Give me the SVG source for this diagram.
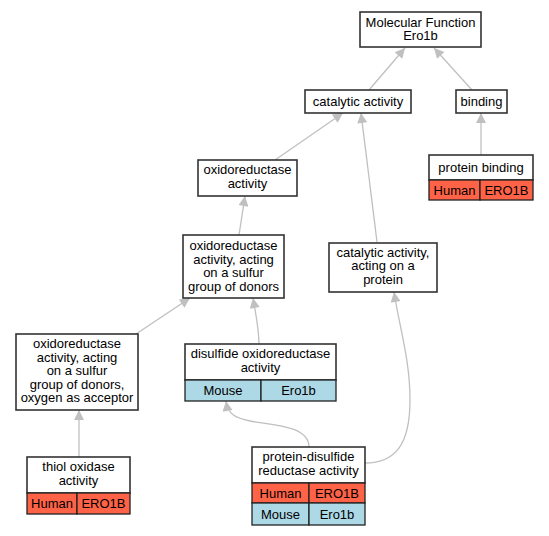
<svg xmlns="http://www.w3.org/2000/svg" width="549" height="536" viewBox="0 0 549 536">
<defs>
<marker id="ah" viewBox="0 0 10 10" refX="10" refY="5" markerUnits="userSpaceOnUse" markerWidth="13" markerHeight="10" orient="auto">
<path d="M0,0 L10,5 L0,10 z" fill="#c0c0c0"/>
</marker>
</defs>
<style>
.box{fill:#ffffff;stroke:#333333;stroke-width:1.6}
.hum{fill:#ff6347;stroke:#222222;stroke-width:1.3}
.mou{fill:#add8e6;stroke:#222222;stroke-width:1.3}
.e{fill:none;stroke:#c0c0c0;stroke-width:1.3;marker-end:url(#ah)}
text{font-family:"Liberation Sans",Arial,sans-serif;font-size:13px;fill:#000;text-anchor:middle}
</style>
<rect width="549" height="536" fill="#ffffff"/>
<g id="connectors">
<path class="e" d="M369,90 L405,48"/>
<path class="e" d="M472,90 L434,48"/>
<path class="e" d="M481,155 L481,113"/>
<path class="e" d="M275,160 L343,113"/>
<path class="e" d="M377,242 L361,113"/>
<path class="e" d="M239,235 L245,196"/>
<path class="e" d="M136,334 L190,298"/>
<path class="e" d="M259,344 C259,330 256,315 253,298"/>
<path class="e" d="M79,457 L79,410"/>
<path class="e" d="M309,447 C309,425 270,425 250,421 C235,418 228,414 226,401"/>
<path class="e" d="M365,463 C395,463 410,445 410,400 C410,360 400,330 394,292"/>
</g>
<g id="n_mf">
<rect class="box" x="360" y="12" width="121" height="35"/>
<text x="420.5" y="26.5">Molecular Function</text>
<text x="420.5" y="40">Ero1b</text>
</g>
<g id="n_catalytic">
<rect class="box" x="305" y="90" width="106" height="23"/>
<text x="358" y="105.5">catalytic activity</text>
</g>
<g id="n_binding">
<rect class="box" x="456" y="90" width="51" height="23"/>
<text x="481.5" y="105.5">binding</text>
</g>
<g id="n_protein_binding">
<rect class="box" x="429" y="155" width="104" height="25"/>
<text x="481" y="171.5">protein binding</text>
<rect class="hum" x="429" y="180" width="51" height="20"/>
<rect class="hum" x="480" y="180" width="53" height="20"/>
<text x="454.5" y="194.5">Human</text>
<text x="506.5" y="194.5">ERO1B</text>
</g>
<g id="n_oxido">
<rect class="box" x="198" y="160" width="99" height="36"/>
<text x="247.5" y="174">oxidoreductase</text>
<text x="247.5" y="187.5">activity</text>
</g>
<g id="n_sulfur">
<rect class="box" x="183" y="235" width="101" height="63"/>
<text x="233.5" y="250">oxidoreductase</text>
<text x="233.5" y="263.5">activity, acting</text>
<text x="233.5" y="277">on a sulfur</text>
<text x="233.5" y="290.5">group of donors</text>
</g>
<g id="n_cat_protein">
<rect class="box" x="329" y="243" width="108" height="49"/>
<text x="383" y="256.5">catalytic activity,</text>
<text x="383" y="270">acting on a</text>
<text x="383" y="283.5">protein</text>
</g>
<g id="n_oxygen">
<rect class="box" x="16" y="334" width="122" height="76"/>
<text x="77" y="348">oxidoreductase</text>
<text x="77" y="361.5">activity, acting</text>
<text x="77" y="375">on a sulfur</text>
<text x="77" y="388.5">group of donors,</text>
<text x="77" y="402">oxygen as acceptor</text>
</g>
<g id="n_disulfide">
<rect class="box" x="185" y="344" width="151" height="36"/>
<text x="260.5" y="358">disulfide oxidoreductase</text>
<text x="260.5" y="371.5">activity</text>
<rect class="mou" x="185" y="380" width="76" height="21"/>
<rect class="mou" x="261" y="380" width="75" height="21"/>
<text x="223" y="394.5">Mouse</text>
<text x="298.5" y="394.5">Ero1b</text>
</g>
<g id="n_thiol">
<rect class="box" x="27" y="457" width="103" height="36"/>
<text x="78.5" y="471">thiol oxidase</text>
<text x="78.5" y="484.5">activity</text>
<rect class="hum" x="27" y="493" width="50" height="21"/>
<rect class="hum" x="77" y="493" width="53" height="21"/>
<text x="52" y="508">Human</text>
<text x="103.5" y="508">ERO1B</text>
</g>
<g id="n_pdi">
<rect class="box" x="252" y="447" width="113" height="36"/>
<text x="308.5" y="461">protein-disulfide</text>
<text x="308.5" y="474.5">reductase activity</text>
<rect class="hum" x="252" y="483" width="57" height="20"/>
<rect class="hum" x="309" y="483" width="56" height="20"/>
<text x="280.5" y="497.5">Human</text>
<text x="337" y="497.5">ERO1B</text>
<rect class="mou" x="252" y="503" width="57" height="22"/>
<rect class="mou" x="309" y="503" width="56" height="22"/>
<text x="280.5" y="518.5">Mouse</text>
<text x="337" y="518.5">Ero1b</text>
</g>
</svg>
